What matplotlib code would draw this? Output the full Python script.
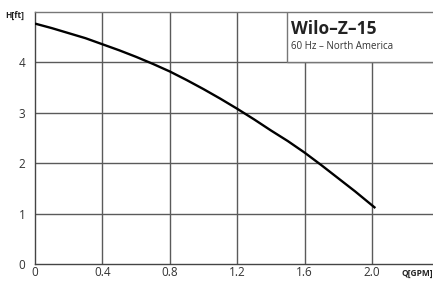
import matplotlib
matplotlib.use("Agg")
import matplotlib.pyplot as plt
from matplotlib.patches import Rectangle

flow_gpm = [0.0, 0.1, 0.2, 0.3, 0.4, 0.5, 0.6, 0.7, 0.8, 0.9, 1.0, 1.1, 1.2,
            1.3, 1.4, 1.5, 1.6, 1.7, 1.8, 1.9, 2.02]
head_ft = [4.77, 4.68, 4.58, 4.48, 4.36, 4.24, 4.11, 3.97, 3.82, 3.65, 3.47,
           3.28, 3.08, 2.87, 2.65, 2.44, 2.21, 1.96, 1.70, 1.44, 1.11]
x_ticks = [0, 0.4, 0.8, 1.2, 1.6, 2.0]
x_tick_labels = ["0", "0.4", "0.8", "1.2", "1.6", "2.0"]
y_ticks = [0, 1, 2, 3, 4]
y_tick_labels = ["0", "1", "2", "3", "4"]
title = "Wilo–Z–15"
subtitle = "60 Hz – North America"

plt.rcParams['font.family'] = ['Open Sans', 'DejaVu Sans']

fig = plt.figure(figsize=(4.33, 2.81), dpi=100)
ax = fig.add_axes([35/433, 17/281, 398/433, 252/281])
ax.set_xlim(0, 398/168.5)
ax.set_ylim(0, 5.0)

grid_c = "#5a5a5a"
for t in x_ticks[1:]:
    ax.axvline(t, color=grid_c, lw=1.0, zorder=1)
for t in y_ticks[1:]:
    ax.axhline(t, color=grid_c, lw=1.0, zorder=1)

ax.spines["right"].set_visible(False)
ax.spines["top"].set_color("#777777")
ax.spines["left"].set_color("#444444")
ax.spines["bottom"].set_color("#444444")
for s in ["left", "bottom", "top"]:
    ax.spines[s].set_linewidth(1.0)

ax.plot(flow_gpm, head_ft, color="black", lw=1.7, zorder=3, solid_capstyle="butt")

ax.set_xticks(x_ticks)
ax.set_xticklabels(x_tick_labels)
ax.set_yticks(y_ticks)
ax.set_yticklabels(y_tick_labels)
ax.tick_params(length=0, labelsize=8.5, colors="#333333")
ax.tick_params(axis="x", pad=1.5)
ax.tick_params(axis="y", pad=7)

# legend box
x0 = (287 - 35) / 168.5
ax.add_patch(Rectangle((x0, 4.0), 3.0 - x0, 1.0, facecolor="white",
                       edgecolor="#777777", lw=1.0, zorder=4))
ax.text(x0 + 0.022, 4.66, title, fontsize=12.5, fontweight="bold",
        color="#222222", va="center", ha="left", zorder=5)
ax.text(x0 + 0.022, 4.31, subtitle, fontsize=7.0,
        color="#333333", va="center", ha="left", zorder=5)

fig.text(5/433, 1 - 15/281, "H[ft]", fontsize=6, fontweight="bold",
         color="#222222", va="center", ha="left")
fig.text(401/433, 1 - 273/281, "Q[GPM]", fontsize=6, fontweight="bold",
         color="#222222", va="center", ha="left")

fig.savefig("out.png", dpi=100)
